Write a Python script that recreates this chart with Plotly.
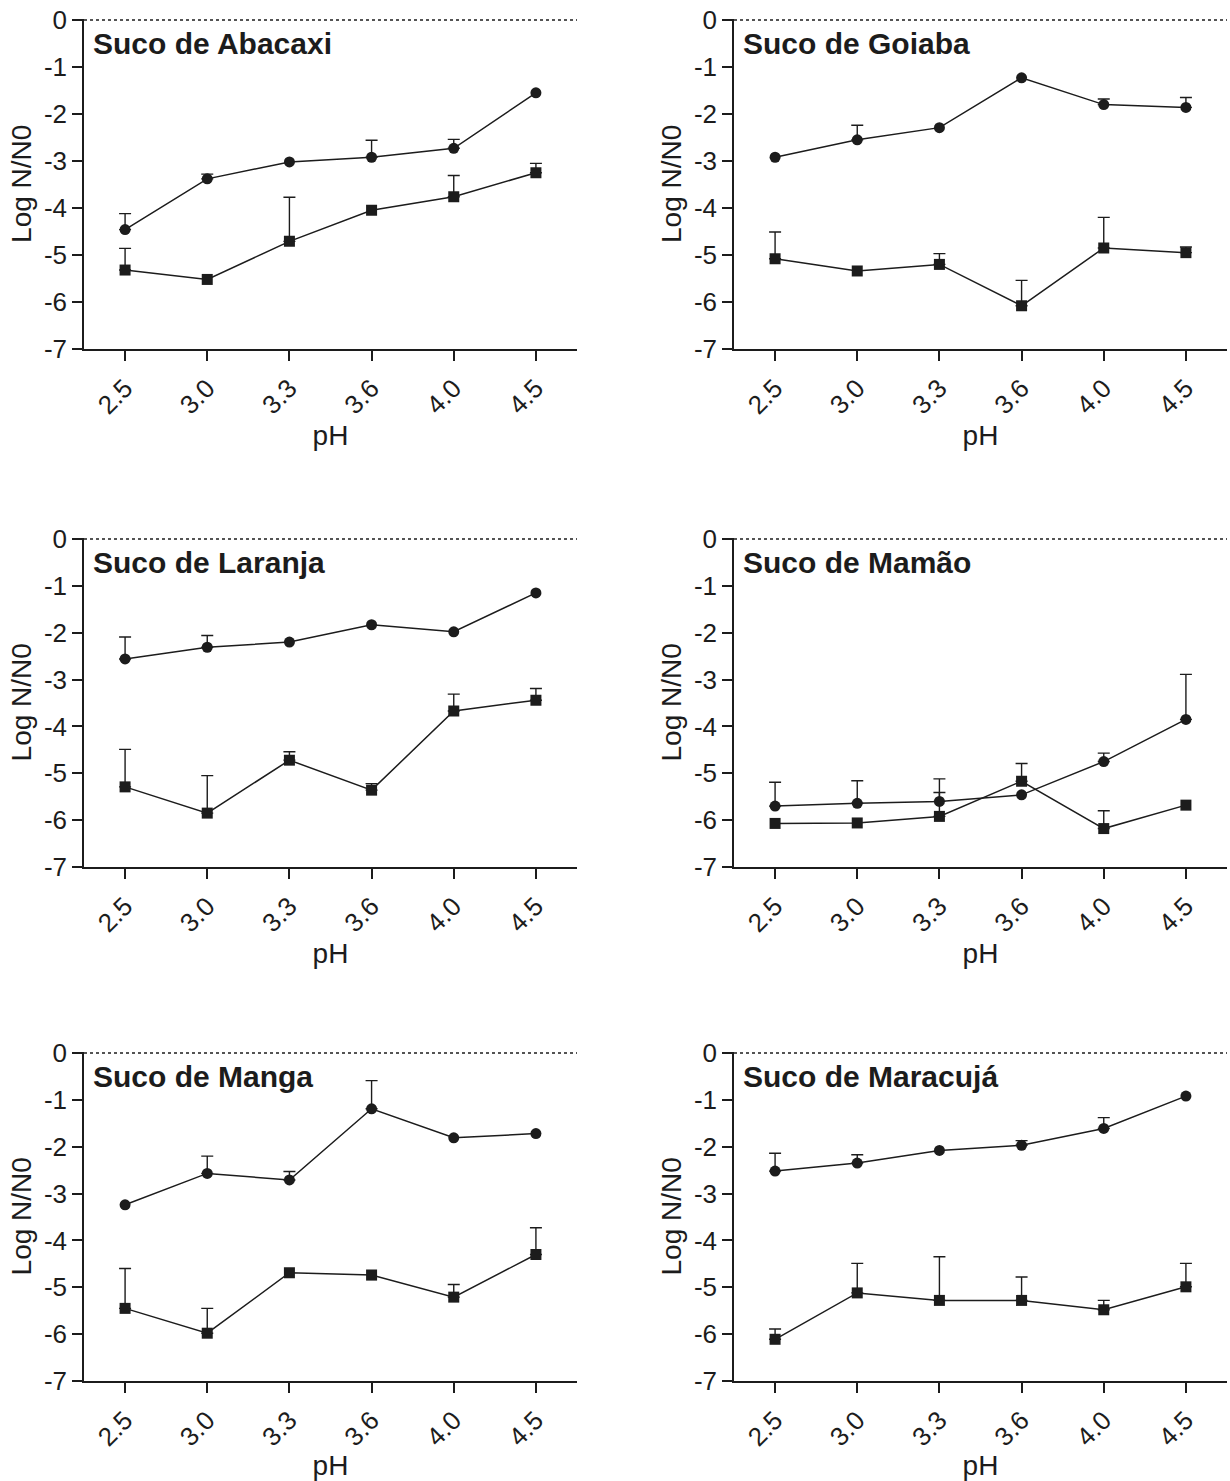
import plotly.graph_objects as go

# ---------------- data ----------------
ph_labels = ["2.5", "3.0", "3.3", "3.6", "4.0", "4.5"]
y_tickvals = [0, -1, -2, -3, -4, -5, -6, -7]
y_ticktext = ["0", "-1", "-2", "-3", "-4", "-5", "-6", "-7"]

panel_titles = ["Suco de Abacaxi", "Suco de Goiaba", "Suco de Laranja",
                "Suco de Mamão", "Suco de Manga", "Suco de Maracujá"]

abacaxi_circle = [-4.46, -3.38, -3.02, -2.92, -2.73, -1.55]
abacaxi_circle_err = [0.34, 0.10, None, 0.36, 0.19, None]
abacaxi_square = [-5.32, -5.52, -4.71, -4.05, -3.76, -3.25]
abacaxi_square_err = [0.46, None, 0.94, None, 0.45, 0.20]

goiaba_circle = [-2.92, -2.55, -2.29, -1.23, -1.80, -1.86]
goiaba_circle_err = [None, 0.31, None, None, 0.12, 0.21]
goiaba_square = [-5.08, -5.34, -5.20, -6.08, -4.85, -4.95]
goiaba_square_err = [0.57, None, 0.23, 0.54, 0.65, 0.12]

laranja_circle = [-2.56, -2.31, -2.20, -1.83, -1.98, -1.15]
laranja_circle_err = [0.47, 0.25, None, None, None, None]
laranja_square = [-5.29, -5.85, -4.72, -5.36, -3.67, -3.44]
laranja_square_err = [0.80, 0.80, 0.18, 0.14, 0.36, 0.25]

mamao_circle = [-5.70, -5.64, -5.60, -5.46, -4.75, -3.85]
mamao_circle_err = [0.51, 0.48, 0.48, None, 0.18, 0.96]
mamao_square = [-6.07, -6.06, -5.92, -5.17, -6.18, -5.68]
mamao_square_err = [None, None, 0.51, 0.38, 0.38, None]

manga_circle = [-3.24, -2.57, -2.71, -1.19, -1.81, -1.72]
manga_circle_err = [None, 0.37, 0.18, 0.60, None, None]
manga_square = [-5.45, -5.98, -4.69, -4.74, -5.21, -4.30]
manga_square_err = [0.85, 0.53, None, None, 0.27, 0.57]

maracuja_circle = [-2.52, -2.35, -2.08, -1.97, -1.61, -0.92]
maracuja_circle_err = [0.38, 0.18, None, 0.10, 0.23, None]
maracuja_square = [-6.11, -5.12, -5.28, -5.28, -5.48, -4.99]
maracuja_square_err = [0.22, 0.63, 0.93, 0.50, 0.20, 0.50]

panels = [
    (abacaxi_circle, abacaxi_circle_err, abacaxi_square, abacaxi_square_err),
    (goiaba_circle, goiaba_circle_err, goiaba_square, goiaba_square_err),
    (laranja_circle, laranja_circle_err, laranja_square, laranja_square_err),
    (mamao_circle, mamao_circle_err, mamao_square, mamao_square_err),
    (manga_circle, manga_circle_err, manga_square, manga_square_err),
    (maracuja_circle, maracuja_circle_err, maracuja_square, maracuja_square_err),
]

# ---------------- layout geometry (pixels) ----------------
W, H = 1230, 1481
col_px = [(84, 577), (734, 1227)]
row_px = [(20, 349), (539, 867), (1053, 1381)]  # y of 0 and y of -7
YTOP = 0.03

INK = "#1c1c1c"
FONT = "Liberation Sans, Arial, Helvetica, sans-serif"
TICK_SIZE = 26
AXT_SIZE = 28
TITLE_SIZE = 30

fig = go.Figure()
layout = dict(
    width=W, height=H,
    margin=dict(l=0, r=0, t=0, b=0, autoexpand=False),
    paper_bgcolor="white", plot_bgcolor="white",
    showlegend=False,
    font=dict(family=FONT, color=INK),
    shapes=[], annotations=[],
)

for i, (c_vals, c_err, s_vals, s_err) in enumerate(panels):
    r, c = divmod(i, 2)
    n = i + 1
    xa = "x" if n == 1 else f"x{n}"
    ya = "y" if n == 1 else f"y{n}"
    x0p, x1p = col_px[c]
    y0p, y7p = row_px[r]
    ppu = (y7p - y0p) / 7.0
    ytop_px = y0p - YTOP * ppu
    xdom = [x0p / W, x1p / W]
    ydom = [1 - y7p / H, 1 - ytop_px / H]

    for vals, errs, sym in ((c_vals, c_err, "circle"), (s_vals, s_err, "square")):
        # error bars (upper only) for points that have them
        ex = [ph_labels[k] for k in range(6) if errs[k] is not None]
        ey = [vals[k] for k in range(6) if errs[k] is not None]
        ee = [errs[k] for k in range(6) if errs[k] is not None]
        fig.add_trace(go.Scatter(
            x=ex, y=ey, mode="markers", xaxis=xa, yaxis=ya,
            marker=dict(size=1, color="rgba(0,0,0,0)"),
            error_y=dict(type="data", symmetric=False, array=ee,
                         arrayminus=[0] * len(ee), color=INK,
                         thickness=1.4, width=6),
            hoverinfo="skip",
        ))
        fig.add_trace(go.Scatter(
            x=ph_labels, y=vals, mode="lines+markers", xaxis=xa, yaxis=ya,
            line=dict(color=INK, width=1.5),
            marker=dict(symbol=sym, size=11, color=INK),
        ))

    layout["xaxis" if n == 1 else f"xaxis{n}"] = dict(
        domain=xdom, anchor=ya, type="category", automargin=False,
        categoryorder="array", categoryarray=ph_labels,
        range=[-0.5, 5.5],
        showline=True, linecolor=INK, linewidth=1.5,
        ticks="outside", ticklen=10, tickwidth=1.5, tickcolor=INK,
        tickangle=-45, tickfont=dict(size=TICK_SIZE, family=FONT, color=INK),
        ticklabelstandoff=2,
        showgrid=False, zeroline=False,
        title=dict(text="pH", font=dict(size=AXT_SIZE, family=FONT, color=INK),
                   standoff=0),
    )
    layout["yaxis" if n == 1 else f"yaxis{n}"] = dict(
        domain=ydom, anchor=xa, automargin=False,
        range=[-7, YTOP],
        tickmode="array", tickvals=y_tickvals, ticktext=y_ticktext,
        showline=True, linecolor=INK, linewidth=1.5,
        ticks="outside", ticklen=10, tickwidth=1.5, tickcolor=INK,
        tickfont=dict(size=TICK_SIZE, family=FONT, color=INK),
        showgrid=False, zeroline=False,
        title=dict(text="Log N/N0", font=dict(size=AXT_SIZE, family=FONT, color=INK),
                   standoff=4),
    )
    # dotted reference line at 0
    layout["shapes"].append(dict(
        type="line", xref=f"{xa} domain", yref=ya,
        x0=0, x1=1, y0=0, y1=0,
        line=dict(color=INK, width=1.3, dash="dot"),
    ))
    layout["annotations"].append(dict(
        text=f"<b>{panel_titles[i]}</b>", xref=f"{xa} domain", yref=ya,
        x=0.014, y=-0.5, xanchor="left", yanchor="middle", showarrow=False,
        font=dict(size=TITLE_SIZE, family=FONT, color=INK),
    ))

fig.update_layout(**layout)
fig.write_html("out.html")
